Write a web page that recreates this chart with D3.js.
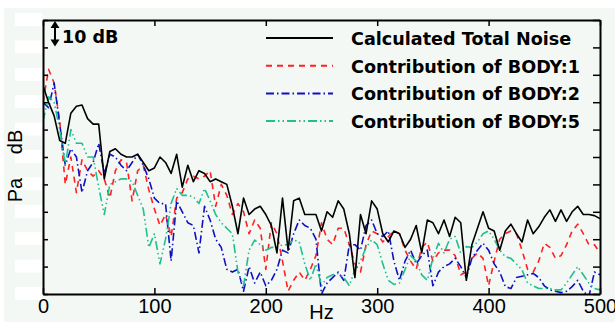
<!DOCTYPE html>
<html>
<head>
<meta charset="utf-8">
<script src="https://cdn.jsdelivr.net/npm/d3@7"></script>
<style>
  body { margin: 0; background: #fff; }
  svg { display: block; }
</style>
</head>
<body>
<div id="chart"></div>
<script>
// frequency grid (Hz) and levels in dB (relative, 10 dB per grid step)
const freqHz = [
  0, 5, 10, 15, 20, 25, 30, 35, 40, 45, 50, 55, 60, 65, 70, 75, 80, 85, 90, 95,
  100, 105, 110, 115, 120, 125, 130, 135, 140, 145, 150, 155, 160, 165, 170, 175, 180, 185, 190, 195,
  200, 205, 210, 215, 220, 225, 230, 235, 240, 245, 250, 255, 260, 265, 270, 275, 280, 285, 290, 295,
  300, 305, 310, 315, 320, 325, 330, 335, 340, 345, 350, 355, 360, 365, 370, 375, 380, 385, 390, 395,
  400, 405, 410, 415, 420, 425, 430, 435, 440, 445, 450, 455, 460, 465, 470, 475, 480, 485, 490, 495, 500
];

const totalNoise = [
  76, 70, 65, 56, 55, 66, 68.5, 69, 64, 62, 62, 42, 52, 53, 51, 50, 50, 51, 48, 45,
  46, 50, 48, 44, 51, 39, 47, 41, 45, 44, 41, 42, 41, 40, 32, 22, 35, 29, 31, 32,
  29, 25, 15, 35, 16, 34, 35, 29, 29, 29, 23, 30, 28, 34, 31, 22, 6, 29, 22, 34,
  31, 22, 19, 23, 22, 17, 20, 25, 15, 27, 26, 22, 27, 21, 28, 26, 5, 18, 24, 30,
  24, 23, 16, 23, 25.5, 22, 19, 27, 22, 24.5, 28, 30.7, 26.5, 30.7, 26.5, 30, 32, 29, 29, 28.6, 27.5
];

const body1 = [
  70, 82, 77, 63, 40, 50, 37, 49, 45, 43, 45, 42, 35, 45, 49, 48, 34, 45, 47, 38,
  31, 25, 29, 21, 35, 37, 42, 43, 42, 43, 45, 32, 40, 36, 29, 33, 30, 22, 27, 24,
  9, 26, 22, 12, 1, 5, 8, 5, 9, 14, 26, 20, 18, 24, 24, 18, 11, 8, 18, 23,
  22, 19, 21, 23, 22, 16, 12, 9, 17, 19, 12, 15, 16, 16, 14, 7, 8, 13, 15, 13,
  3, 12, 20, 22, 23, 22, 16, 9, 8, 12, 18.5, 17, 13, 14, 18, 23, 25.5, 22, 18, 18, 15
];

const body2 = [
  70, 68, 77, 62, 47, 53, 50, 37, 45, 48, 55, 44, 51, 50, 47, 45, 48, 51, 47, 42,
  35, 33, 33, 12, 34, 30, 26, 25, 15, 32, 27, 20, 17, 9, 8, 9, 1, 10, 4, 8,
  3, 5, 9, 16, 15, 22, 27, 25, 24, 20, 0, 4, 6, 8, 5, 18, 18, 16, 25, 27,
  22, 21, 23, 12, 5, 12, 16, 11, 14, 16, 3, 8, 10, 11, 13, 10, 6, 13, 16, 18.5,
  16, 11, 8, 2.7, 2, 6, 6.5, 7, 7.5, 6, 3, 1.5, 1, 0.5, 1, 2.7, 5, 1, -1, 8, 7
];

const body5 = [
  63, 72, 70, 60, 47, 60, 55, 55, 50, 50, 39, 29, 40, 41, 42, 42, 41, 36, 31, 17,
  22, 11, 20, 33, 38.5, 36, 36, 35.5, 33, 38.5, 34, 29, 26, 24, 22, 8, 3, 16, 19.7, 18,
  16, 17, 17, 18, 18, 19.7, 19, 11, 5, 11, 3, 6, 7, 7.5, 6, 3, 9, 12, 17, 19.7,
  18, 11, 5, 3.5, 4, 9, 14, 12, 7, 5, 13, 18.5, 15, 20, 21, 15, 17.3, 17, 19, 22,
  23, 20, 16, 13.6, 13, 11, 8.8, 4, 3, 2, 2, 2, 1.5, 1.5, 4, 7, 10, 7, 4, 2, 1.5
];

const xTickValues = [0, 100, 200, 300, 400, 500];
const yTickValues = [0, 10, 20, 30, 40, 50, 60, 70, 80, 90, 100];
const seriesNames = ['Calculated Total Noise', 'Contribution of BODY:1', 'Contribution of BODY:2', 'Contribution of BODY:5'];

const width = 615, height = 322;
const plotLeft = 43, plotRight = 600, plotTop = 20, plotBottom = 294;

const series = [
  { name: seriesNames[0], values: totalNoise, color: '#000000', dash: null },
  { name: seriesNames[1], values: body1, color: '#ff2020', dash: '6,5' },
  { name: seriesNames[2], values: body2, color: '#1010c0', dash: '8,3,1.5,3' },
  { name: seriesNames[3], values: body5, color: '#20bf90', dash: '9,3,1.5,3,1.5,3' },
];

const x = d3.scaleLinear().domain([0, 500]).range([plotLeft, plotRight]);
const y = d3.scaleLinear().domain([0, 100]).range([plotBottom, plotTop]);

const svg = d3.select('#chart')
  .append('svg')
    .attr('width', width)
    .attr('height', height);

// pale panel background
svg.append('rect')
  .attr('x', 4).attr('y', 8)
  .attr('width', width - 4).attr('height', height - 8)
  .attr('fill', '#f3f8f5');

// white patches where the y tick labels used to be
svg.append('g')
  .selectAll('rect')
  .data(yTickValues)
  .enter().append('rect')
    .attr('x', 15).attr('width', 27)
    .attr('y', d => y(d) - 7).attr('height', 13)
    .attr('fill', '#ffffff')
    .attr('opacity', 0.9);

svg.append('clipPath')
  .attr('id', 'plotClip')
  .append('rect')
    .attr('x', plotLeft).attr('y', plotTop)
    .attr('width', plotRight - plotLeft).attr('height', plotBottom - plotTop);

const line = d3.line()
  .x((d, i) => x(freqHz[i]))
  .y(d => y(d));

// draw contributions first, total on top
svg.append('g')
  .attr('clip-path', 'url(#plotClip)')
  .selectAll('path')
  .data(series.slice(1).concat(series.slice(0, 1)))
  .enter().append('path')
    .attr('d', d => line(d.values))
    .attr('fill', 'none')
    .attr('stroke', d => d.color)
    .attr('stroke-width', 1.6)
    .attr('stroke-dasharray', d => d.dash)
    .attr('stroke-linejoin', 'round');

// axes with inward ticks
const styleAxis = g => {
  g.selectAll('.domain').attr('stroke', '#000').attr('stroke-width', 2);
  g.selectAll('.tick line').attr('stroke', '#000').attr('stroke-width', 1.5);
};

svg.append('g')
  .attr('transform', `translate(0,${plotBottom})`)
  .call(d3.axisBottom(x).tickValues(xTickValues).tickSize(-6).tickSizeOuter(0).tickPadding(5))
  .call(styleAxis)
  .call(g => g.selectAll('text')
    .attr('font-family', '"Liberation Sans", Arial, sans-serif')
    .attr('font-size', 20)
    .attr('fill', '#000'));

svg.append('g')
  .attr('transform', `translate(0,${plotTop})`)
  .call(d3.axisTop(x).tickValues(xTickValues).tickSize(-6).tickSizeOuter(0).tickFormat(''))
  .call(styleAxis);

svg.append('g')
  .attr('transform', `translate(${plotLeft},0)`)
  .call(d3.axisLeft(y).tickValues(yTickValues).tickSize(-5).tickSizeOuter(0).tickFormat(''))
  .call(styleAxis);

svg.append('g')
  .attr('transform', `translate(${plotRight},0)`)
  .call(d3.axisRight(y).tickValues(yTickValues).tickSize(-7).tickSizeOuter(0).tickFormat(''))
  .call(styleAxis);

// axis titles
svg.append('text')
  .attr('x', x(250)).attr('y', 319)
  .attr('text-anchor', 'middle')
  .style('font-family', '"Liberation Sans", Arial, sans-serif')
  .style('font-size', '20px')
  .text('Hz');

svg.append('text')
  .attr('transform', 'translate(22,142) rotate(-90)')
  .attr('text-anchor', 'middle')
  .style('font-family', '"Liberation Sans", Arial, sans-serif')
  .style('font-size', '20px')
  .text('dB');

svg.append('text')
  .attr('transform', 'translate(22,190) rotate(-90)')
  .attr('text-anchor', 'middle')
  .style('font-family', '"Liberation Sans", Arial, sans-serif')
  .style('font-size', '20px')
  .text('Pa');

// 10 dB scale marker (one grid step)
const ax = 55, aTop = y(100) + 1, aBot = y(90) - 1;
svg.append('line')
  .attr('x1', ax).attr('x2', ax)
  .attr('y1', aTop + 4).attr('y2', aBot - 4)
  .attr('stroke', '#000').attr('stroke-width', 2);
svg.append('path')
  .attr('d', `M${ax},${aTop} L${ax - 4.5},${aTop + 7} L${ax + 4.5},${aTop + 7} Z M${ax},${aBot} L${ax - 4.5},${aBot - 7} L${ax + 4.5},${aBot - 7} Z`)
  .attr('fill', '#000');
svg.append('text')
  .attr('x', 62).attr('y', 43)
  .style('font-family', '"DejaVu Sans", Verdana, sans-serif')
  .style('font-weight', 'bold')
  .style('font-size', '17.5px')
  .text('10 dB');

// legend
const legend = svg.append('g')
  .selectAll('g')
  .data(series)
  .enter().append('g')
    .attr('transform', (d, i) => `translate(0,${45 + i * 27.7})`);

legend.append('line')
  .attr('x1', 266).attr('x2', 333)
  .attr('y1', -7).attr('y2', -7)
  .attr('stroke', d => d.color)
  .attr('stroke-width', 2)
  .attr('stroke-dasharray', d => d.dash);

legend.append('text')
  .attr('x', 351)
  .style('font-family', '"DejaVu Sans", Verdana, sans-serif')
  .style('font-weight', 'bold')
  .style('font-size', '17.6px')
  .style('fill', '#000')
  .text(d => d.name);
</script>
</body>
</html>
